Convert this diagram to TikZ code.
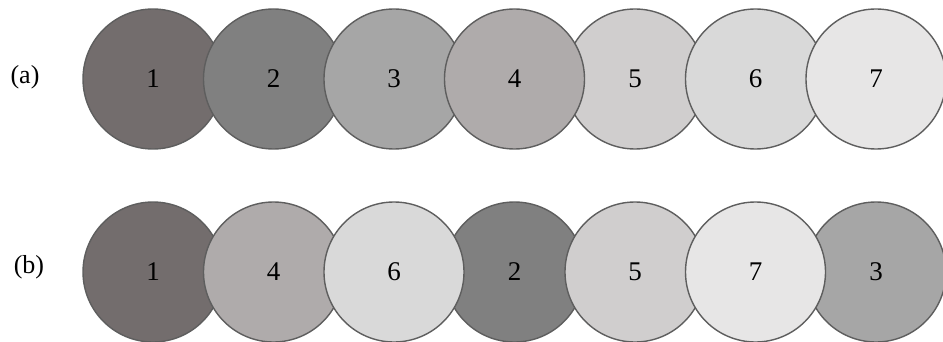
\documentclass[tikz,border=0pt]{standalone}
\usepackage{fontspec}
\setmainfont{Liberation Serif}
\definecolor{shade1}{HTML}{736D6D}
\definecolor{shade2}{HTML}{808080}
\definecolor{shade3}{HTML}{A6A6A6}
\definecolor{shade4}{HTML}{AFABAB}
\definecolor{shade5}{HTML}{D0CECE}
\definecolor{shade6}{HTML}{D9D9D9}
\definecolor{shade7}{HTML}{E7E6E6}
\definecolor{rim}{HTML}{5E5E5E}
\begin{document}
\begin{tikzpicture}[x=1pt,y=-1pt]
\tikzset{disc/.style={circle,draw=rim,line width=1.4pt,minimum size=140pt,inner sep=0pt,font=\fontsize{27}{31}\selectfont},
  rowlab/.style={font=\fontsize{26}{30}\selectfont}}
\useasboundingbox (0,0) rectangle (943,342);
% row (a): shades in order
\node[rowlab] (la) at (25,77) {(a)};
\foreach \n/\x in {1/153,2/273.5,3/394,5/635,4/514.5,6/755.5,7/876}
    \node[disc,fill=shade\n] (a\n) at (\x,79) {\n};
% row (b): same shades, shuffled
\node[rowlab] (lb) at (29,267) {(b)};
\foreach \n/\x in {2/514.5,1/153,4/273.5,6/394,5/635,3/876,7/755.5}
    \node[disc,fill=shade\n] (b\n) at (\x,272) {\n};
\end{tikzpicture}
\end{document}
